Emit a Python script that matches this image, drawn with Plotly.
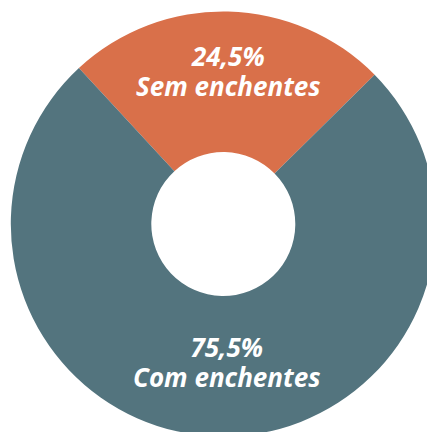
import plotly.graph_objects as go

labels = ["Sem enchentes", "Com enchentes"]
values = [24.5, 75.5]
colors = ["#D9704A", "#53747E"]
# label block centers (pixels)
label_px = [(228.5, 71), (226.5, 362)]

W, H = 448, 448
cx, cy, r = 223.3, 224.0, 212.5

fig = go.Figure()
fig.add_trace(go.Pie(
    labels=labels,
    values=values,
    marker=dict(colors=colors, line=dict(width=0)),
    hole=72 / r,
    sort=False,
    direction="clockwise",
    rotation=-42.8,
    textinfo="none",
    hoverinfo="label+percent",
    showlegend=False,
    domain=dict(x=[(cx - r) / W, (cx + r) / W], y=[1 - (cy + r) / H, 1 - (cy - r) / H]),
))

font = dict(family="Open Sans", size=23, color="white", weight=700, style="italic")
for lab, val, (px, py) in zip(labels, values, label_px):
    pct = f"{val:.1f}%".replace(".", ",")
    fig.add_annotation(
        x=px / W, y=1 - py / H, xref="paper", yref="paper",
        text=f"<span style='font-size:26px'>{pct}</span><br><span style='font-size:26px'>{lab}</span>",
        showarrow=False, font=font, align="center",
        xanchor="center", yanchor="middle",
    )

fig.update_layout(
    width=W, height=H,
    margin=dict(l=0, r=0, t=0, b=0),
    paper_bgcolor="white", plot_bgcolor="white",
    separators=",.",
)

fig.write_html("out.html", config={"displayModeBar": False},
               post_script="document.body.style.margin='0';document.body.style.overflow='hidden';")
